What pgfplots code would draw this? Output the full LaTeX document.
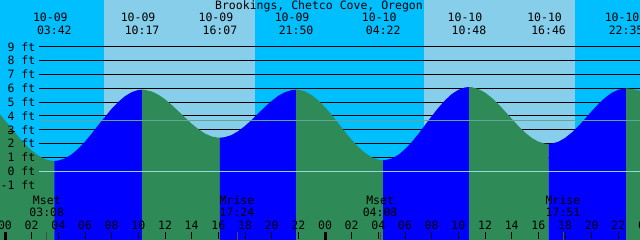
\documentclass[border=0pt]{standalone}
\usepackage{pgfplots}
\pgfplotsset{compat=1.18}
\usepackage{fontspec}
\setmainfont{DejaVu Sans Mono}
\definecolor{night}{RGB}{0,191,255}
\definecolor{day}{RGB}{135,206,235}
\definecolor{ebb}{RGB}{46,139,87}
\definecolor{flood}{RGB}{0,0,255}
\definecolor{msl}{RGB}{95,168,150}
\definecolor{datum}{RGB}{150,212,225}
\newcommand\ff{\fontsize{11.5bp}{13bp}\selectfont}
\newcommand\hl[2]{\node[lab,anchor=base] at (axis cs:#1,-4.19) {#2};}
\newcommand\tk[1]{\draw[black, line width=1bp] (axis cs:#1,-4.39) -- (axis cs:#1,-4.9);}
\newcommand\yl[2]{\node[lab,anchor=base east] at (axis cs:2.29,#1) {#2};}
\newcommand\ev[4]{\node[lab,anchor=base] at (axis cs:#2,10.86) {#3};\node[lab,anchor=base] at (axis cs:#1,9.92) {#4};}
\newcommand\mn[3]{\node[lab,anchor=base] at (axis cs:#1,-2.43) {#2};\node[lab,anchor=base] at (axis cs:#1,-3.23) {#3};\draw[black!70, line width=0.7bp] (axis cs:#1,-4.39) -- (axis cs:#1,-4.96);}
\begin{document}
\begin{tikzpicture}[lab/.style={font=\ff, inner sep=0pt, text=black}]
\useasboundingbox (0,0) rectangle (640bp,240bp);
\clip (0,0) rectangle (640bp,240bp);
\begin{axis}[at={(0,0)}, anchor=south west, scale only axis, width=640bp, height=240bp,
  xmin=-0.375, xmax=47.625, ymin=-4.96, ymax=12.38, hide axis, clip=false]
% sky: night and daylight
\addplot[fill=night, draw=none] coordinates {(-0.375,-4.96) (-0.375,12.38) (47.625,12.38) (47.625,-4.96)};
\addplot[fill=day, draw=none] coordinates {(7.425,-4.96) (7.425,12.38) (18.75,12.38) (18.75,-4.96)};
\addplot[fill=day, draw=none] coordinates {(31.425,-4.96) (31.425,12.38) (42.75,12.38) (42.75,-4.96)};
% height lines
\pgfplotsinvokeforeach{1,2,3,4,5,6,7,8,9}{
  \addplot[black, line width=1bp] coordinates {(2.55,#1) (47.625,#1)};
}
% water: falling (green) and rising (blue)
\addplot[fill=ebb, draw=none] coordinates {(-0.375,-5) (-0.375,4.11) (0,3.68) (0.5,3.09) (1,2.51) (1.5,1.97) (2,1.50) (2.5,1.14) (3,0.88) (3.5,0.76) (3.7,0.75) (3.7,-5)};
\addplot[fill=flood, draw=none] coordinates {(3.7,-5) (3.7,0.75) (4,0.78) (4.5,0.94) (5,1.23) (5.5,1.64) (6,2.15) (6.5,2.73) (7,3.34) (7.5,3.94) (8,4.52) (8.5,5.02) (9,5.43) (9.5,5.72) (10,5.88) (10.283,5.9) (10.283,-5)};
\addplot[fill=ebb, draw=none] coordinates {(10.283,-5) (10.283,5.9) (10.5,5.89) (11,5.77) (11.5,5.54) (12,5.21) (12.5,4.80) (13,4.35) (13.5,3.89) (14,3.44) (14.5,3.05) (15,2.73) (15.5,2.52) (16,2.43) (16.117,2.43) (16.117,-5)};
\addplot[fill=flood, draw=none] coordinates {(16.117,-5) (16.117,2.43) (16.5,2.47) (17,2.63) (17.5,2.91) (18,3.28) (18.5,3.72) (19,4.19) (19.5,4.66) (20,5.09) (20.5,5.46) (21,5.72) (21.5,5.87) (21.833,5.9) (21.833,-5)};
\addplot[fill=ebb, draw=none] coordinates {(21.833,-5) (21.833,5.9) (22,5.89) (22.5,5.77) (23,5.51) (23.5,5.12) (24,4.64) (24.5,4.08) (25,3.47) (25.5,2.86) (26,2.28) (26.5,1.76) (27,1.33) (27.5,1.02) (28,0.84) (28.367,0.8) (28.367,-5)};
\addplot[fill=flood, draw=none] coordinates {(28.367,-5) (28.367,0.8) (28.5,0.81) (29,0.93) (29.5,1.19) (30,1.60) (30.5,2.11) (31,2.70) (31.5,3.34) (32,3.98) (32.5,4.59) (33,5.13) (33.5,5.58) (34,5.89) (34.5,6.06) (34.8,6.09) (34.8,-5)};
\addplot[fill=ebb, draw=none] coordinates {(34.8,-5) (34.8,6.09) (35,6.08) (35.5,5.95) (36,5.69) (36.5,5.32) (37,4.86) (37.5,4.34) (38,3.80) (38.5,3.28) (39,2.81) (39.5,2.42) (40,2.15) (40.5,2.00) (40.767,1.98) (40.767,-5)};
\addplot[fill=flood, draw=none] coordinates {(40.767,-5) (40.767,1.98) (41,2.00) (41.5,2.14) (42,2.41) (42.5,2.80) (43,3.27) (43.5,3.80) (44,4.34) (44.5,4.86) (45,5.31) (45.5,5.67) (46,5.90) (46.583,6.0) (46.583,-5)};
\addplot[fill=ebb, draw=none] coordinates {(46.583,-5) (46.583,6.0) (47,5.95) (47.625,5.82) (47.625,-5)};
% datum and mean lines
\addplot[datum, line width=1bp] coordinates {(2.55,0) (47.625,0)};
\addplot[msl, line width=1bp] coordinates {(2.55,3.68) (47.625,3.68)};
\addplot[black, line width=1bp] coordinates {(0.225,2.86) (0.75,2.86)};
% title
\node[lab,anchor=base] at (axis cs:23.55,11.69) {Brookings, Chetco Cove, Oregon};
% tide events
\ev{3.7}{3.4}{10-09}{03:42}
\ev{10.283}{9.983}{10-09}{10:17}
\ev{16.117}{15.817}{10-09}{16:07}
\ev{21.833}{21.533}{10-09}{21:50}
\ev{28.367}{28.067}{10-10}{04:22}
\ev{34.8}{34.5}{10-10}{10:48}
\ev{40.767}{40.467}{10-10}{16:46}
\ev{46.583}{46.283}{10-10}{22:35}
% y labels
\yl{8.69}{9 ft}\yl{7.69}{8 ft}\yl{6.69}{7 ft}\yl{5.69}{6 ft}\yl{4.69}{5 ft}
\yl{3.69}{4 ft}\yl{2.69}{3 ft}\yl{1.69}{2 ft}\yl{0.69}{1 ft}\yl{-0.31}{0 ft}\yl{-1.31}{-1 ft}
% moon
\mn{3.133}{Mset}{03:08}
\mn{17.4}{Mrise}{17:24}
\mn{28.133}{Mset}{04:08}
\mn{41.85}{Mrise}{17:51}
% hour labels
\hl{0}{00}\hl{2}{02}\hl{4}{04}\hl{6}{06}\hl{8}{08}\hl{10}{10}\hl{12}{12}\hl{14}{14}\hl{16}{16}\hl{18}{18}\hl{20}{20}\hl{22}{22}
\hl{24}{00}\hl{26}{02}\hl{28}{04}\hl{30}{06}\hl{32}{08}\hl{34}{10}\hl{36}{12}\hl{38}{14}\hl{40}{16}\hl{42}{18}\hl{44}{20}\hl{46}{22}\hl{48}{00}
\tk{2}\tk{4}\tk{6}\tk{8}\tk{10}\tk{12}\tk{14}\tk{16}\tk{18}\tk{20}\tk{22}
\tk{26}\tk{28}\tk{30}\tk{32}\tk{34}\tk{36}\tk{38}\tk{40}\tk{42}\tk{44}\tk{46}
\draw[black, line width=3bp] (axis cs:0.06,-4.39) -- (axis cs:0.06,-4.96);
\draw[black, line width=3bp] (axis cs:24.06,-4.39) -- (axis cs:24.06,-4.96);
\end{axis}
\end{tikzpicture}
\end{document}
